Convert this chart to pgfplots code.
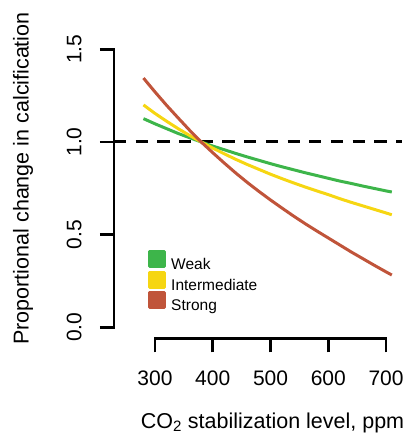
\documentclass[border=0pt]{standalone}
\usepackage{fontspec}
\setmainfont{Liberation Sans}
\usepackage{pgfplots}
\pgfplotsset{compat=1.18}

\definecolor{weakc}{RGB}{61,181,74}
\definecolor{interc}{RGB}{246,214,18}
\definecolor{strongc}{RGB}{192,84,58}

% calcification response relative to 380 ppm
\pgfplotstableread{
ppm  weak   inter  strong
280  1.126  1.200  1.345
300  1.098  1.154  1.270
320  1.072  1.112  1.198
340  1.046  1.072  1.130
360  1.023  1.035  1.063
380  1.000  1.000  1.000
400  0.978  0.967  0.942
420  0.958  0.936  0.886
440  0.938  0.906  0.832
460  0.919  0.878  0.781
480  0.901  0.852  0.733
500  0.883  0.826  0.687
520  0.866  0.802  0.643
540  0.850  0.779  0.600
560  0.834  0.757  0.559
580  0.819  0.736  0.520
600  0.804  0.716  0.482
620  0.789  0.694  0.444
640  0.776  0.674  0.406
660  0.762  0.655  0.370
680  0.749  0.636  0.334
700  0.736  0.617  0.299
710  0.730  0.607  0.282
}\calc

\begin{document}
\begin{tikzpicture}[x=1pt,y=1pt]
\useasboundingbox (0,0) rectangle (406,448);
\begin{axis}[
    at={(114pt,109.6pt)}, anchor=south west,
    scale only axis, width=288.2pt, height=300.2pt,
    xmin=229, xmax=728, ymin=-0.06, ymax=1.56,
    axis lines*=left,
    x axis line style={-, line width=2.7pt, line cap=rect, shorten <=41pt, shorten >=16.2pt},
    y axis line style={-, line width=2.7pt, line cap=rect, shorten <=11.1pt, shorten >=11.1pt},
    xtick={300,400,500,600,700},
    ytick={0,0.5,1,1.5},
    yticklabels={0.0,0.5,1.0,1.5},
    tick align=outside, major tick length=14pt,
    tick style={black, line width=2.7pt},
    /pgf/number format/assume math mode=true,
    ticklabel style={font=\fontsize{21}{21}\selectfont},
    xticklabel style={anchor=base, yshift=-32.6pt},
    yticklabel style={rotate=90, anchor=base, yshift=18.5pt},
    xlabel={CO\textsubscript{2} stabilization level, ppm},
    ylabel={Proportional change in calcification},
    label style={font=\fontsize{21.5}{21.5}\selectfont},
    xlabel style={at={(axis description cs:0.55,-0.30)}, anchor=base},
    ylabel style={at={(axis description cs:-0.296,0.533)}, anchor=base, rotate=0},
    legend cell align=left,
    legend image code/.code={\fill[#1] (0pt,-1.7pt) rectangle (15pt,13.3pt);},
    legend style={at={(axis cs:287.9,0.417)}, anchor=north west, draw=none, fill=none,
        inner sep=0pt, row sep=-1.2pt, column sep=4.5pt,
        nodes={inner sep=0.5pt},
        font=\fontsize{15.5}{15.5}\selectfont},
]
\addplot[black, line width=3pt, dash pattern=on 12.2pt off 9.5pt, forget plot]
    coordinates {(229,1) (728,1)};
\addplot[color=weakc, line width=3pt, line join=round] table[x=ppm, y=weak] {\calc};
\addlegendentry{Weak}
\addplot[color=interc, line width=3pt, line join=round] table[x=ppm, y=inter] {\calc};
\addlegendentry{Intermediate}
\addplot[color=strongc, line width=3pt, line join=round] table[x=ppm, y=strong] {\calc};
\addlegendentry{Strong}
\end{axis}
\end{tikzpicture}
\end{document}
